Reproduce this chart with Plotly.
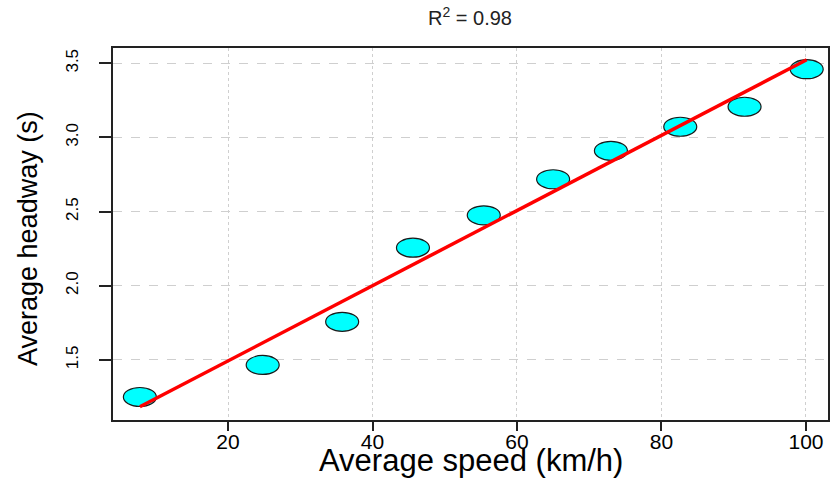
import plotly.graph_objects as go

# Data
speed = [7.8, 24.8, 35.8, 45.6, 55.4, 65.0, 73.0, 82.6, 91.5, 100.1]
headway = [1.25, 1.466, 1.757, 2.257, 2.475, 2.718, 2.91, 3.072, 3.207, 3.46]
fit_x = [7.8, 100.1]
fit_y = [1.184, 3.524]
x_ticks = [20, 40, 60, 80, 100]
y_ticks = [1.5, 2.0, 2.5, 3.0, 3.5]
r2_text = "R<sup>2</sup> = 0.98"
x_title = "Average speed (km/h)"
y_title = "Average headway (s)"

FONT = "Liberation Sans, Arial, sans-serif"
W, H = 833, 479
ML, MR, MT, MB = 113, 5, 48, 59
PW, PH = W - ML - MR, H - MT - MB

fig = go.Figure()

# invisible trace for hover on points
fig.add_trace(go.Scatter(x=speed, y=headway, mode="markers",
                         marker=dict(size=26, opacity=0), showlegend=False,
                         hoverinfo="x+y"))

# regression line
fig.add_trace(go.Scatter(x=fit_x, y=fit_y, mode="lines",
                         line=dict(color="#ff0000", width=3.5),
                         showlegend=False, hoverinfo="skip"))

# elliptical markers anchored at data values (pixel-sized)
shapes = []
for xv, yv in zip(speed, headway):
    shapes.append(dict(type="circle", xref="x", yref="y",
                       xsizemode="pixel", ysizemode="pixel",
                       xanchor=xv, yanchor=yv,
                       x0=-16.5, x1=16.5, y0=-9.5, y1=9.5,
                       fillcolor="#00ffff", line=dict(color="#1a1a1a", width=1.2),
                       layer="between"))

annotations = [
    dict(text=x_title, xref="paper", yref="paper",
         x=(471 - ML) / PW, y=((H - 461) - MB) / PH,
         xanchor="center", yanchor="middle", showarrow=False,
         font=dict(size=31, family=FONT, color="black")),
    dict(text=y_title, xref="paper", yref="paper",
         x=(28 - ML) / PW, y=((H - 239) - MB) / PH,
         xanchor="center", yanchor="middle", showarrow=False, textangle=-90,
         font=dict(size=27, family=FONT, color="black")),
]

fig.update_layout(
    width=W, height=H,
    margin=dict(l=ML, r=MR, t=MT, b=MB),
    paper_bgcolor="white", plot_bgcolor="white",
    shapes=shapes, annotations=annotations,
    font=dict(family=FONT, color="black"),
    title=dict(text=r2_text, x=470/W, xanchor="center",
               y=(H - 18) / H, yanchor="middle",
               font=dict(size=20, color="#222222", family=FONT)),
    xaxis=dict(range=[4.08, 103.05], tickvals=x_ticks, ticktext=[str(v) for v in x_ticks],
               automargin=False,
               showline=True, linecolor="#222222", linewidth=1.5, mirror=True,
               ticks="outside", ticklen=9, tickwidth=1.5, tickcolor="#222222",
               tickfont=dict(size=21, family=FONT), ticklabelstandoff=-7,
               showgrid=True, gridcolor="#cfcfcf", gridwidth=1.2, griddash="dot",
               zeroline=False),
    yaxis=dict(range=[1.095, 3.603], tickvals=y_ticks, ticktext=[f"{v:.1f}" for v in y_ticks],
               automargin=False,
               showline=True, linecolor="#222222", linewidth=1.5, mirror=True,
               ticks="outside", ticklen=12, tickwidth=1.5, tickcolor="#222222",
               tickfont=dict(size=17, family=FONT), tickangle=-90, ticklabelstandoff=14,
               showgrid=True, gridcolor="#cfcfcf", gridwidth=1.2, griddash="dash",
               zeroline=False),
)

fig.write_html("out.html", config={"displayModeBar": False},
               post_script="document.body.style.margin='0';document.body.style.padding='0';")
